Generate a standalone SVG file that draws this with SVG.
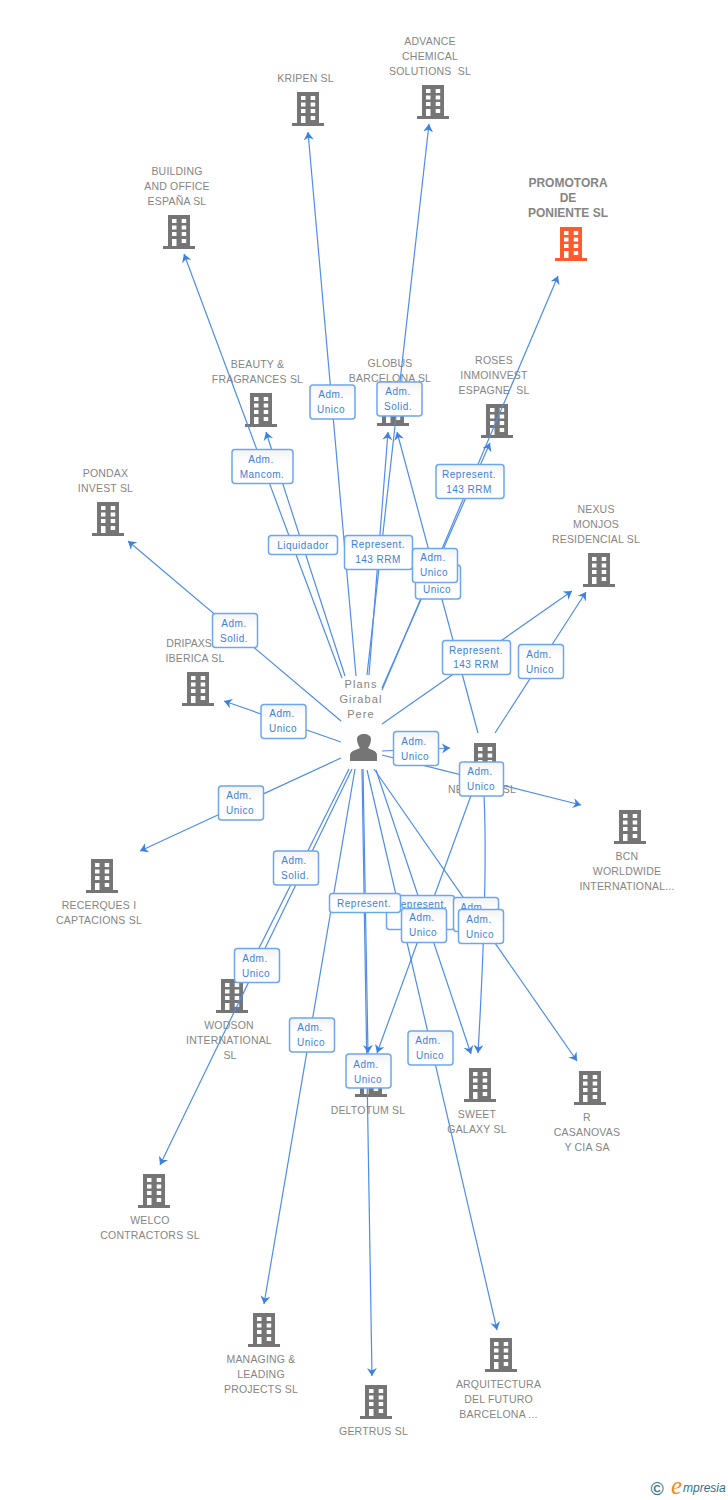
<svg xmlns="http://www.w3.org/2000/svg" width="728" height="1500" viewBox="0 0 728 1500">
<style>
text{font-family:"Liberation Sans",Arial,sans-serif}
.n{font-size:10.5px;fill:#858585;text-anchor:middle;letter-spacing:.2px}
.p{font-size:11px;fill:#858585;text-anchor:middle;letter-spacing:1.1px}
.b{font-size:12px;font-weight:bold;fill:#858585;text-anchor:middle}
.c line,.c path{stroke:#4f8de8;stroke-width:1.2;fill:none;marker-end:url(#a)}
.l rect{fill:url(#g);stroke:#6ea6ee;stroke-width:1.5}
.l text{font-size:10px;fill:#3c80e0;text-anchor:middle;letter-spacing:.5px}
.bg{fill:#757575}.w{fill:#fff}
</style>
<defs>
<linearGradient id="g" x1="0" y1="0" x2="0" y2="1"><stop offset="0" stop-color="#f3f3f3"/><stop offset=".4" stop-color="#fff"/><stop offset="1" stop-color="#fff"/></linearGradient>
<marker id="a" markerUnits="userSpaceOnUse" markerWidth="9" markerHeight="10" refX="8" refY="5" orient="auto"><path d="M8,5 L0,0 L2.500,5 L0,10 Z" fill="#3c80e0"/></marker>
<g id="bld"><path d="M-11,0H11V31H16V34H-16V31H-11Z"/><path class="w" d="M-7,4h4.500v4h-4.500zM2.700,4h4.500v4h-4.500zM-7,10.500h4.500v4h-4.500zM2.700,10.500h4.500v4h-4.500zM-7,17h4.500v4h-4.500zM2.700,17h4.500v4h-4.500zM-7,24h4.500v7h-4.500zM2.700,24h4.500v4h-4.500z"/></g>
</defs>
<rect width="728" height="1500" fill="#fff"/>

<g id="node-promotora"><use href="#bld" x="571" y="227" fill="#ff5a2c"/><text class="b" x="568" y="187">PROMOTORA</text><text class="b" x="568" y="202">DE</text><text class="b" x="568" y="217">PONIENTE SL</text></g>
<g id="node-advance" class="bg"><use href="#bld" x="433" y="85"/><text class="n" x="430" y="45">ADVANCE</text><text class="n" x="430" y="60">CHEMICAL</text><text class="n" x="430" y="75" xml:space="preserve">SOLUTIONS  SL</text></g>
<g id="node-kripen" class="bg"><use href="#bld" x="308" y="92"/><text class="n" x="305.500" y="82">KRIPEN SL</text></g>
<g id="node-building" class="bg"><use href="#bld" x="179" y="215"/><text class="n" x="177" y="175">BUILDING</text><text class="n" x="177" y="190">AND OFFICE</text><text class="n" x="177" y="205">ESPAÑA SL</text></g>
<g id="node-beauty" class="bg"><use href="#bld" x="261" y="393"/><text class="n" x="257.500" y="368">BEAUTY &amp;</text><text class="n" x="257.500" y="383">FRAGRANCES SL</text></g>
<g id="node-globus" class="bg"><use href="#bld" x="393" y="392"/><text class="n" x="390" y="367">GLOBUS</text><text class="n" x="390" y="382">BARCELONA SL</text></g>
<g id="node-roses" class="bg"><use href="#bld" x="497" y="404"/><text class="n" x="494" y="364">ROSES</text><text class="n" x="494" y="379">INMOINVEST</text><text class="n" x="494" y="394" xml:space="preserve">ESPAGNE  SL</text></g>
<g id="node-nexus-monjos" class="bg"><use href="#bld" x="599" y="553"/><text class="n" x="596" y="513">NEXUS</text><text class="n" x="596" y="528">MONJOS</text><text class="n" x="596" y="543">RESIDENCIAL SL</text></g>
<g id="node-pondax" class="bg"><use href="#bld" x="108" y="502"/><text class="n" x="105.500" y="477">PONDAX</text><text class="n" x="105.500" y="492">INVEST SL</text></g>
<g id="node-dripaxs" class="bg"><use href="#bld" x="198" y="672"/><text class="n" x="189" y="647" style="letter-spacing:0">DRIPAXS</text><text class="n" x="195" y="662">IBERICA SL</text></g>
<g id="node-ne" class="bg"><use href="#bld" x="485" y="743"/><text class="n" x="448" y="793" style="text-anchor:start">NE</text><text class="n" x="516" y="793" style="text-anchor:end">SL</text></g>
<g id="node-bcn" class="bg"><use href="#bld" x="630" y="810"/><text class="n" x="627" y="860">BCN</text><text class="n" x="627" y="875">WORLDWIDE</text><text class="n" x="627" y="890">INTERNATIONAL...</text></g>
<g id="node-recerques" class="bg"><use href="#bld" x="102" y="859"/><text class="n" x="99" y="909">RECERQUES I</text><text class="n" x="99" y="924">CAPTACIONS SL</text></g>
<g id="node-wodson" class="bg"><use href="#bld" x="232" y="979"/><text class="n" x="229" y="1029">WODSON</text><text class="n" x="229" y="1044">INTERNATIONAL</text><text class="n" x="230" y="1059">SL</text></g>
<g id="node-welco" class="bg"><use href="#bld" x="154" y="1174"/><text class="n" x="150" y="1224">WELCO</text><text class="n" x="150" y="1239">CONTRACTORS SL</text></g>
<g id="node-deltotum" class="bg"><use href="#bld" x="371" y="1063"/><text class="n" x="368" y="1114">DELTOTUM SL</text></g>
<g id="node-sweet" class="bg"><use href="#bld" x="480" y="1068"/><text class="n" x="477" y="1118">SWEET</text><text class="n" x="477" y="1133">GALAXY SL</text></g>
<g id="node-casanovas" class="bg"><use href="#bld" x="590" y="1071"/><text class="n" x="587" y="1121">R</text><text class="n" x="587" y="1136">CASANOVAS</text><text class="n" x="587" y="1151">Y CIA SA</text></g>
<g id="node-managing" class="bg"><use href="#bld" x="264" y="1313"/><text class="n" x="261" y="1363">MANAGING &amp;</text><text class="n" x="261" y="1378">LEADING</text><text class="n" x="261" y="1393">PROJECTS SL</text></g>
<g id="node-gertrus" class="bg"><use href="#bld" x="376" y="1385"/><text class="n" x="373.500" y="1435">GERTRUS SL</text></g>
<g id="node-arquitectura" class="bg"><use href="#bld" x="501" y="1338"/><text class="n" x="498.500" y="1388">ARQUITECTURA</text><text class="n" x="498.500" y="1403">DEL FUTURO</text><text class="n" x="498.500" y="1418">BARCELONA ...</text></g>
<g id="node-person"><path fill="#757575" d="M350,761V755C350,751 356,750 360,748C358,745 357,742 357,739C357,736 360,734 364,734C368,734 371,736 371,739C371,742 370,745 368,748C372,750 377,751 377,755V761Z"/><text class="p" x="361" y="688">Plans</text><text class="p" x="361" y="703">Girabal</text><text class="p" x="361" y="718">Pere</text></g>

<g id="connectors" class="c">
<line x1="342" y1="678" x2="184" y2="254"/>
<line x1="345" y1="676" x2="266" y2="432"/>
<line x1="356" y1="676" x2="308" y2="132"/>
<line x1="367" y1="675" x2="429" y2="124"/>
<line x1="369" y1="675" x2="388" y2="432"/>
<line x1="478" y1="733" x2="397" y2="432"/>
<line x1="382" y1="690" x2="558" y2="276"/>
<line x1="382" y1="688" x2="490" y2="443"/>
<line x1="382" y1="724" x2="572" y2="591"/>
<line x1="495" y1="733" x2="586" y2="592"/>
<line x1="341" y1="721" x2="128" y2="541"/>
<line x1="341" y1="742" x2="224" y2="701"/>
<line x1="341" y1="758" x2="140" y2="851"/>
<line x1="382" y1="751" x2="450" y2="748"/>
<line x1="382" y1="755" x2="581" y2="805"/>
<line x1="352" y1="769" x2="160" y2="1165"/>
<line x1="349" y1="769" x2="243" y2="980"/>
<line x1="355" y1="769" x2="264" y2="1304"/>
<line x1="362" y1="769" x2="372" y2="1376"/>
<line x1="363" y1="769" x2="368" y2="1053"/>
<line x1="473" y1="790" x2="377" y2="1053"/>
<line x1="376" y1="770" x2="471" y2="1054"/>
<line x1="374" y1="769" x2="577" y2="1061"/>
<line x1="367" y1="770" x2="497" y2="1330"/>
<path d="M484,795 Q488,880 478,1053"/>
</g>

<g id="edge-labels" class="l">
<g><rect x="310" y="385" width="45" height="34" rx="3"/><text x="331" y="398">Adm.</text><text x="331" y="413">Unico</text></g>
<g><rect x="377" y="382" width="45" height="34" rx="3"/><text x="398" y="395">Adm.</text><text x="398" y="410">Solid.</text></g>
<g><rect x="232" y="449.500" width="61" height="34" rx="3"/><text x="261" y="463">Adm.</text><text x="262" y="478">Mancom.</text></g>
<g><rect x="436" y="464.500" width="68" height="34" rx="3"/><text x="469" y="478">Represent.</text><text x="469" y="493">143 RRM</text></g>
<g><rect x="268.500" y="535.500" width="69" height="19" rx="3"/><text x="303" y="549">Liquidador</text></g>
<g><rect x="344.500" y="535.500" width="68" height="34" rx="3"/><text x="378" y="548">Represent.</text><text x="378" y="563">143 RRM</text></g>
<g><rect x="415.500" y="565" width="45" height="34" rx="3"/><text x="437" y="593">Unico</text></g>
<g><rect x="412.500" y="548.500" width="45" height="34" rx="3"/><text x="433" y="561">Adm.</text><text x="434" y="576">Unico</text></g>
<g><rect x="212.500" y="613.500" width="45" height="34" rx="3"/><text x="234" y="627">Adm.</text><text x="234" y="642">Solid.</text></g>
<g><rect x="442.500" y="640.500" width="68" height="34" rx="3"/><text x="476" y="654">Represent.</text><text x="476" y="668">143 RRM</text></g>
<g><rect x="518.500" y="644.500" width="45" height="34" rx="3"/><text x="539" y="658">Adm.</text><text x="540" y="673">Unico</text></g>
<g><rect x="261" y="704.500" width="45" height="34" rx="3"/><text x="282" y="717">Adm.</text><text x="283" y="732">Unico</text></g>
<g><rect x="393.500" y="731.500" width="45" height="34" rx="3"/><text x="414" y="745">Adm.</text><text x="415" y="760">Unico</text></g>
<g><rect x="459.500" y="762" width="44" height="34" rx="3"/><text x="480" y="775">Adm.</text><text x="481" y="790">Unico</text></g>
<g><rect x="218.500" y="786" width="45" height="34" rx="3"/><text x="239" y="799">Adm.</text><text x="240" y="814">Unico</text></g>
<g><rect x="273.500" y="851" width="45" height="34" rx="3"/><text x="294" y="864">Adm.</text><text x="295" y="879">Solid.</text></g>
<g><rect x="234.500" y="948.500" width="45" height="34" rx="3"/><text x="255" y="962">Adm.</text><text x="256" y="977">Unico</text></g>
<g><rect x="386.500" y="895.500" width="68" height="34" rx="3"/><text x="420" y="908">Represent.</text></g>
<g><rect x="453.500" y="897.500" width="45" height="34" rx="3"/><text x="473" y="911">Adm.</text></g>
<g><rect x="329.500" y="893.500" width="71" height="19" rx="3"/><text x="364" y="907">Represent.</text></g>
<g><rect x="401.500" y="908.500" width="45" height="34" rx="3"/><text x="422" y="921">Adm.</text><text x="423" y="936">Unico</text></g>
<g><rect x="458.500" y="909.500" width="45" height="34" rx="3"/><text x="479" y="923">Adm.</text><text x="480" y="938">Unico</text></g>
<g><rect x="289.500" y="1018" width="45" height="34" rx="3"/><text x="310" y="1031">Adm.</text><text x="311" y="1046">Unico</text></g>
<g><rect x="408" y="1031" width="45" height="34" rx="3"/><text x="428" y="1044">Adm.</text><text x="430" y="1059">Unico</text></g>
<g><rect x="346" y="1054" width="45" height="34" rx="3"/><text x="366" y="1068">Adm.</text><text x="368" y="1083">Unico</text></g>
</g>

<g id="logo">
<text x="650.500" y="1495" font-size="18" font-weight="bold" fill="#3a7a98">©</text>
<text x="671" y="1494" font-size="25" font-style="italic" fill="#f08a1d" style="font-family:'Liberation Serif',serif">e</text>
<text x="683" y="1492" font-size="12" font-style="italic" fill="#2f6f8c">mpresia</text>
</g>
</svg>
